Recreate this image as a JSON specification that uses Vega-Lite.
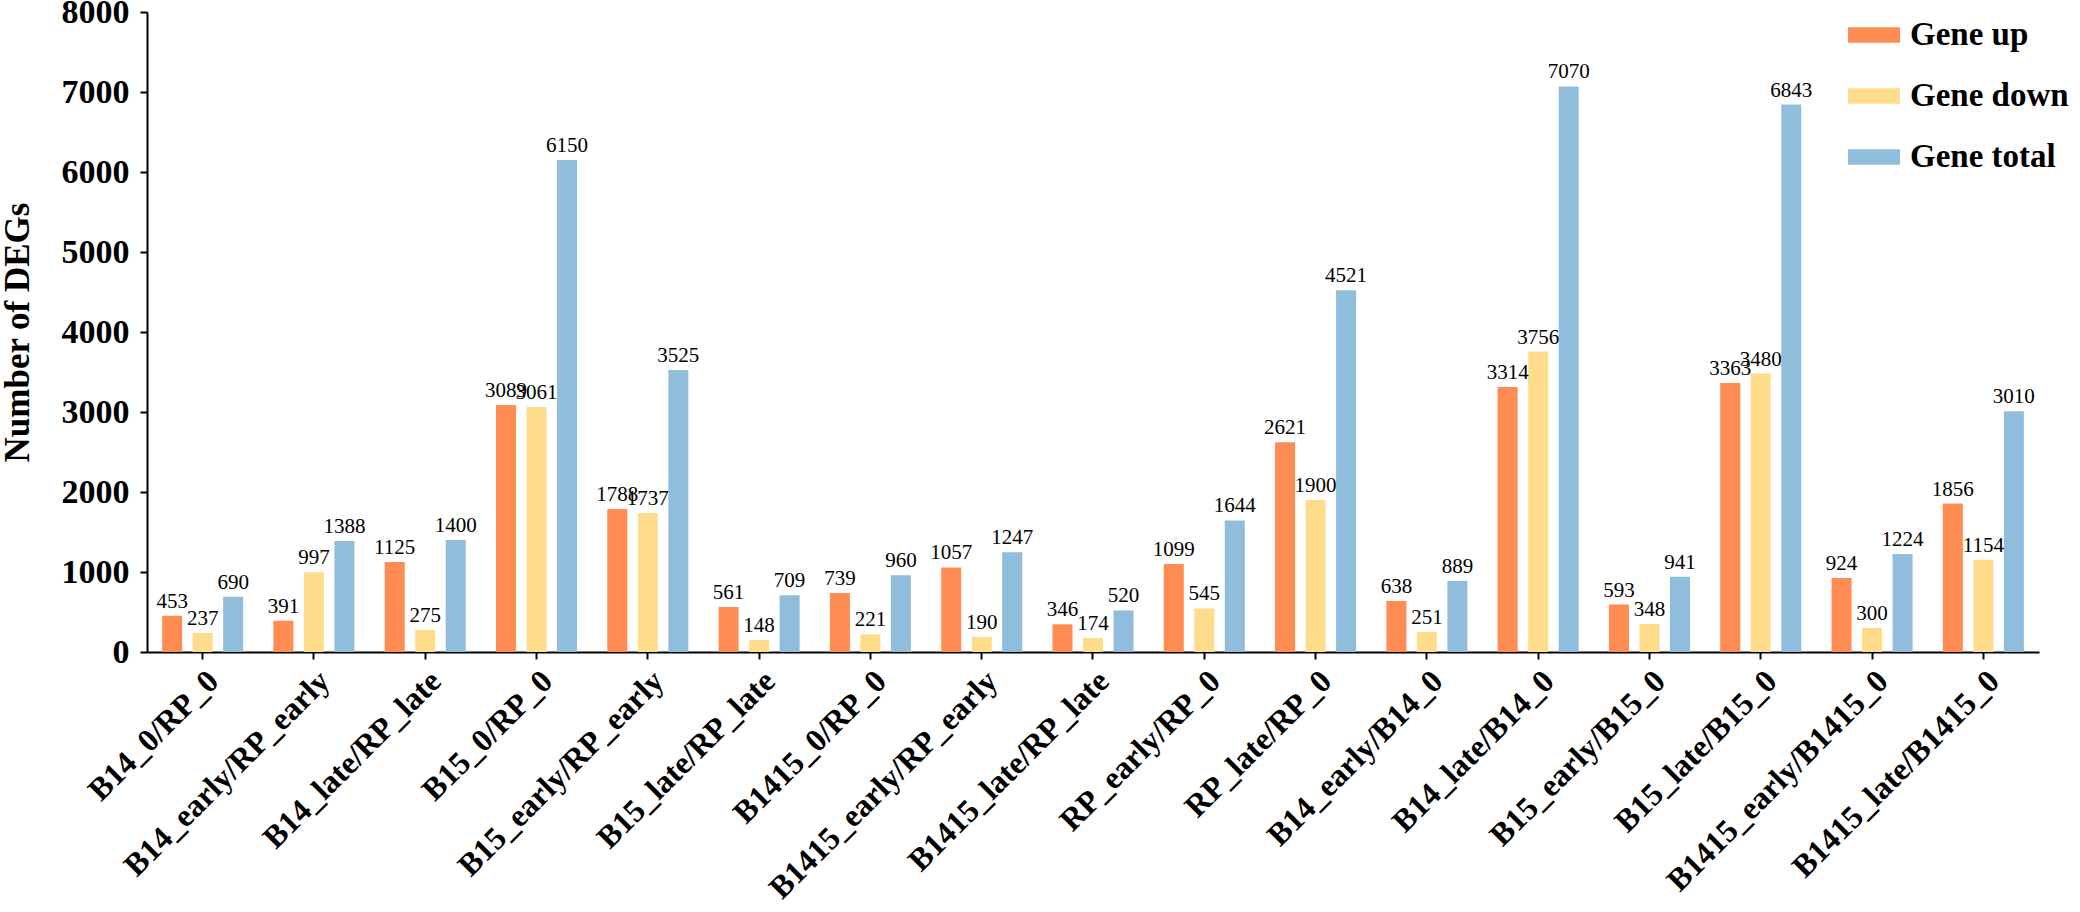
{
  "$schema": "https://vega.github.io/schema/vega-lite/v6.json",
  "width": 1892,
  "height": 640,
  "autosize": {"type": "none"},
  "padding": {"left": 147, "top": 12, "right": 41, "bottom": 260},
  "background": "white",
  "config": {"view": {"stroke": null}, "font": "Liberation Serif"},
  "data": {
    "values": [
      {"comparison": "B14_0/RP_0", "series": "Gene up", "count": 453},
      {"comparison": "B14_0/RP_0", "series": "Gene down", "count": 237},
      {"comparison": "B14_0/RP_0", "series": "Gene total", "count": 690},
      {"comparison": "B14_early/RP_early", "series": "Gene up", "count": 391},
      {"comparison": "B14_early/RP_early", "series": "Gene down", "count": 997},
      {"comparison": "B14_early/RP_early", "series": "Gene total", "count": 1388},
      {"comparison": "B14_late/RP_late", "series": "Gene up", "count": 1125},
      {"comparison": "B14_late/RP_late", "series": "Gene down", "count": 275},
      {"comparison": "B14_late/RP_late", "series": "Gene total", "count": 1400},
      {"comparison": "B15_0/RP_0", "series": "Gene up", "count": 3089},
      {"comparison": "B15_0/RP_0", "series": "Gene down", "count": 3061},
      {"comparison": "B15_0/RP_0", "series": "Gene total", "count": 6150},
      {"comparison": "B15_early/RP_early", "series": "Gene up", "count": 1788},
      {"comparison": "B15_early/RP_early", "series": "Gene down", "count": 1737},
      {"comparison": "B15_early/RP_early", "series": "Gene total", "count": 3525},
      {"comparison": "B15_late/RP_late", "series": "Gene up", "count": 561},
      {"comparison": "B15_late/RP_late", "series": "Gene down", "count": 148},
      {"comparison": "B15_late/RP_late", "series": "Gene total", "count": 709},
      {"comparison": "B1415_0/RP_0", "series": "Gene up", "count": 739},
      {"comparison": "B1415_0/RP_0", "series": "Gene down", "count": 221},
      {"comparison": "B1415_0/RP_0", "series": "Gene total", "count": 960},
      {"comparison": "B1415_early/RP_early", "series": "Gene up", "count": 1057},
      {"comparison": "B1415_early/RP_early", "series": "Gene down", "count": 190},
      {"comparison": "B1415_early/RP_early", "series": "Gene total", "count": 1247},
      {"comparison": "B1415_late/RP_late", "series": "Gene up", "count": 346},
      {"comparison": "B1415_late/RP_late", "series": "Gene down", "count": 174},
      {"comparison": "B1415_late/RP_late", "series": "Gene total", "count": 520},
      {"comparison": "RP_early/RP_0", "series": "Gene up", "count": 1099},
      {"comparison": "RP_early/RP_0", "series": "Gene down", "count": 545},
      {"comparison": "RP_early/RP_0", "series": "Gene total", "count": 1644},
      {"comparison": "RP_late/RP_0", "series": "Gene up", "count": 2621},
      {"comparison": "RP_late/RP_0", "series": "Gene down", "count": 1900},
      {"comparison": "RP_late/RP_0", "series": "Gene total", "count": 4521},
      {"comparison": "B14_early/B14_0", "series": "Gene up", "count": 638},
      {"comparison": "B14_early/B14_0", "series": "Gene down", "count": 251},
      {"comparison": "B14_early/B14_0", "series": "Gene total", "count": 889},
      {"comparison": "B14_late/B14_0", "series": "Gene up", "count": 3314},
      {"comparison": "B14_late/B14_0", "series": "Gene down", "count": 3756},
      {"comparison": "B14_late/B14_0", "series": "Gene total", "count": 7070},
      {"comparison": "B15_early/B15_0", "series": "Gene up", "count": 593},
      {"comparison": "B15_early/B15_0", "series": "Gene down", "count": 348},
      {"comparison": "B15_early/B15_0", "series": "Gene total", "count": 941},
      {"comparison": "B15_late/B15_0", "series": "Gene up", "count": 3363},
      {"comparison": "B15_late/B15_0", "series": "Gene down", "count": 3480},
      {"comparison": "B15_late/B15_0", "series": "Gene total", "count": 6843},
      {"comparison": "B1415_early/B1415_0", "series": "Gene up", "count": 924},
      {"comparison": "B1415_early/B1415_0", "series": "Gene down", "count": 300},
      {"comparison": "B1415_early/B1415_0", "series": "Gene total", "count": 1224},
      {"comparison": "B1415_late/B1415_0", "series": "Gene up", "count": 1856},
      {"comparison": "B1415_late/B1415_0", "series": "Gene down", "count": 1154},
      {"comparison": "B1415_late/B1415_0", "series": "Gene total", "count": 3010}
    ]
  },
  "encoding": {
    "x": {
      "field": "comparison",
      "type": "nominal",
      "sort": null,
      "scale": {"paddingInner": 0.272, "paddingOuter": 0.136},
      "axis": {
        "title": null,
        "labelAngle": -45,
        "labelFont": "Liberation Serif",
        "labelFontSize": 32,
        "labelFontWeight": "bold",
        "labelColor": "black",
        "labelLimit": 1000,
        "labelOverlap": false,
        "labelPadding": 6,
        "tickSize": 7,
        "tickWidth": 2,
        "tickColor": "black",
        "domainColor": "black",
        "domainWidth": 2
      }
    },
    "xOffset": {
      "field": "series",
      "type": "nominal",
      "sort": ["Gene up", "Gene down", "Gene total"],
      "scale": {"paddingInner": 0.344, "paddingOuter": 0}
    },
    "y": {
      "field": "count",
      "type": "quantitative",
      "scale": {"domain": [0, 8000], "nice": false},
      "axis": {
        "title": "Number of DEGs",
        "titleFont": "Liberation Serif",
        "titleFontSize": 35,
        "titleFontWeight": "bold",
        "titleColor": "black",
        "titlePadding": 26,
        "values": [0, 1000, 2000, 3000, 4000, 5000, 6000, 7000, 8000],
        "format": "d",
        "labelFont": "Liberation Serif",
        "labelFontSize": 34,
        "labelFontWeight": "bold",
        "labelColor": "black",
        "labelPadding": 11,
        "tickSize": 7,
        "tickWidth": 2,
        "tickColor": "black",
        "domainColor": "black",
        "domainWidth": 2,
        "grid": false
      }
    }
  },
  "layer": [
    {
      "mark": {"type": "bar"},
      "encoding": {
        "color": {
          "field": "series",
          "type": "nominal",
          "sort": ["Gene up", "Gene down", "Gene total"],
          "scale": {
            "domain": ["Gene up", "Gene down", "Gene total"],
            "range": ["#FF8C53", "#FFDC8B", "#90BDDB"]
          },
          "legend": {
            "orient": "none",
            "legendX": 1701,
            "legendY": -3,
            "title": null,
            "padding": 0,
            "symbolType": "M-1,-0.3H1V0.3H-1Z",
            "symbolSize": 2704,
            "symbolStrokeWidth": 0,
            "symbolOpacity": 1,
            "labelFont": "Liberation Serif",
            "labelFontSize": 33,
            "labelFontWeight": "bold",
            "labelColor": "black",
            "labelOffset": 10,
            "labelLimit": 400,
            "rowPadding": 18
          }
        }
      }
    },
    {
      "mark": {"type": "text", "baseline": "bottom", "dy": -4, "fontSize": 21, "font": "Liberation Serif", "color": "black"},
      "encoding": {
        "text": {"field": "count", "type": "quantitative", "format": "d"}
      }
    }
  ]
}
